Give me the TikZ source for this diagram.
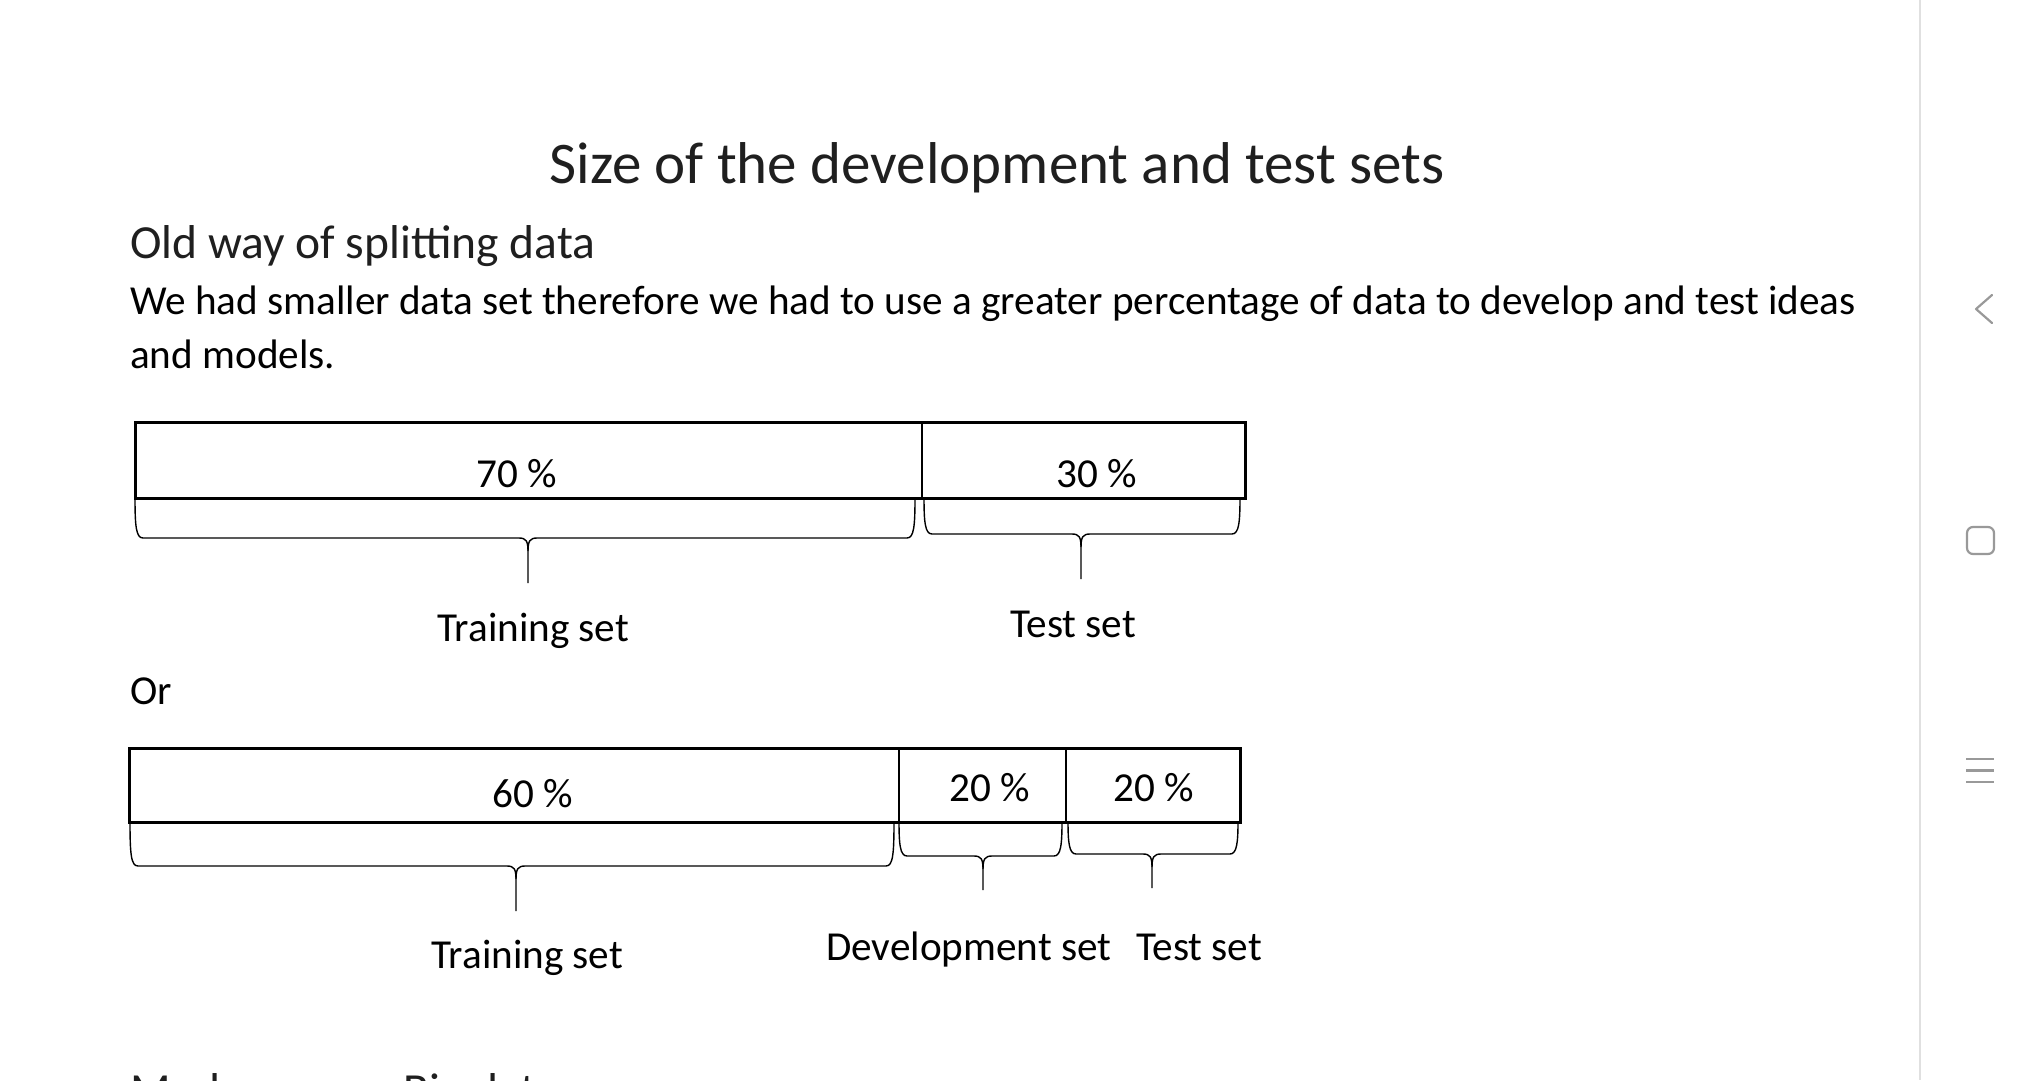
\documentclass[tikz,border=0pt]{standalone}
\usepackage{fontspec}
\setmainfont{Carlito}
\newcommand{\brc}[6]{%
  \draw[bracestyle] (#1,#4) .. controls (#1,#5-12) and (#1+1,#5) .. (#1+8,#5) -- (#3-9,#5) .. controls (#3-2,#5) and (#3,#5+3) .. (#3,#5+13) -- (#3,#6);
  \draw[bracestyle] (#2,#4) .. controls (#2,#5-12) and (#2-1,#5) .. (#2-8,#5) -- (#3+9,#5) .. controls (#3+2,#5) and (#3,#5+3) .. (#3,#5+13);
}
\begin{document}
\begin{tikzpicture}[x=1pt,y=-1pt,
  body/.style={font=\fontsize{41.2}{49}\selectfont, inner sep=0pt},
  head/.style={font=\fontsize{47.5}{57}\selectfont, inner sep=0pt, text=black!88},
  titlestyle/.style={font=\fontsize{59}{70}\selectfont, inner sep=0pt, text=black!88},
  seg/.style={draw, line width=1.5pt, inner sep=0pt},
  outer/.style={line width=2.7pt},
  bracestyle/.style={line width=1.4pt},
  icon/.style={draw=black!40, line width=2.2pt}]
\useasboundingbox (0,0) rectangle (2040,1080);
\begin{scope}
\clip (0,0) rectangle (2040,1080);
% side panel
\draw[black!12, line width=1.5pt] (1920,0) -- (1920,1080);
\draw[icon, line cap=round, line join=round] (1992,295) -- (1976,309) -- (1992,323);
\draw[icon, rounded corners=6pt] (1967,527) rectangle (1994,554);
\draw[icon] (1966,759) -- (1994,759);
\draw[icon] (1966,770.5) -- (1994,770.5);
\draw[icon] (1966,782) -- (1994,782);

% texts
\node[titlestyle, anchor=base] (title) at (997,183) {Size of the development and test sets};
\node[head, anchor=base west] (old) at (130,258) {Old way of splitting data};
\node[body, anchor=base west] (l1) at (130,314.5) {We had smaller data set therefore we had to use a greater percentage of data to develop and test ideas};
\node[body, anchor=base west] (l2) at (130,368.5) {and models.};

% first bar
\node[seg, minimum width=786pt, minimum height=75pt, anchor=north west] (s70) at (135,422) {};
\node[seg, minimum width=323pt, minimum height=75pt, anchor=north west] (s30) at (921,422) {};
\draw[outer] (s70.north west) rectangle (s30.south east);
\node[body, anchor=base west] (p70) at (476,487.5) {70 \%};
\node[body, anchor=base west] (p30) at (1056,487.5) {30 \%};
\brc{135}{915}{528}{497}{538}{583}
\brc{924}{1240}{1081}{497}{534}{579}
\node[body, anchor=base west] (train1) at (437,641) {Training set};
\node[body, anchor=base west] (test1) at (1010,637) {Test set};

\node[body, anchor=base west] (or) at (130,704) {Or};

% second bar
\node[seg, minimum width=769pt, minimum height=73pt, anchor=north west] (s60) at (129,748) {};
\node[seg, minimum width=167pt, minimum height=73pt, anchor=north west] (s20a) at (898,748) {};
\node[seg, minimum width=174pt, minimum height=73pt, anchor=north west] (s20b) at (1065,748) {};
\draw[outer] (s60.north west) rectangle (s20b.south east);
\node[body, anchor=base west] (p60) at (492,807.5) {60 \%};
\node[body, anchor=base west] (p20a) at (949,801) {20 \%};
\node[body, anchor=base west] (p20b) at (1113,801) {20 \%};
\brc{130}{894}{516}{821}{866}{911}
\brc{899}{1062}{983}{821}{856}{890}
\brc{1068}{1238}{1152}{821}{854}{888}
\node[body, anchor=base west] (train2) at (431,968) {Training set};
\node[body, anchor=base west] (dev2) at (826,960) {Development set};
\node[body, anchor=base west] (test2) at (1136,960) {Test set};

% cut-off heading at the bottom
\node[head, anchor=base west] (modern) at (130,1106) {Modern era – Big data};
\end{scope}
\end{tikzpicture}
\end{document}
